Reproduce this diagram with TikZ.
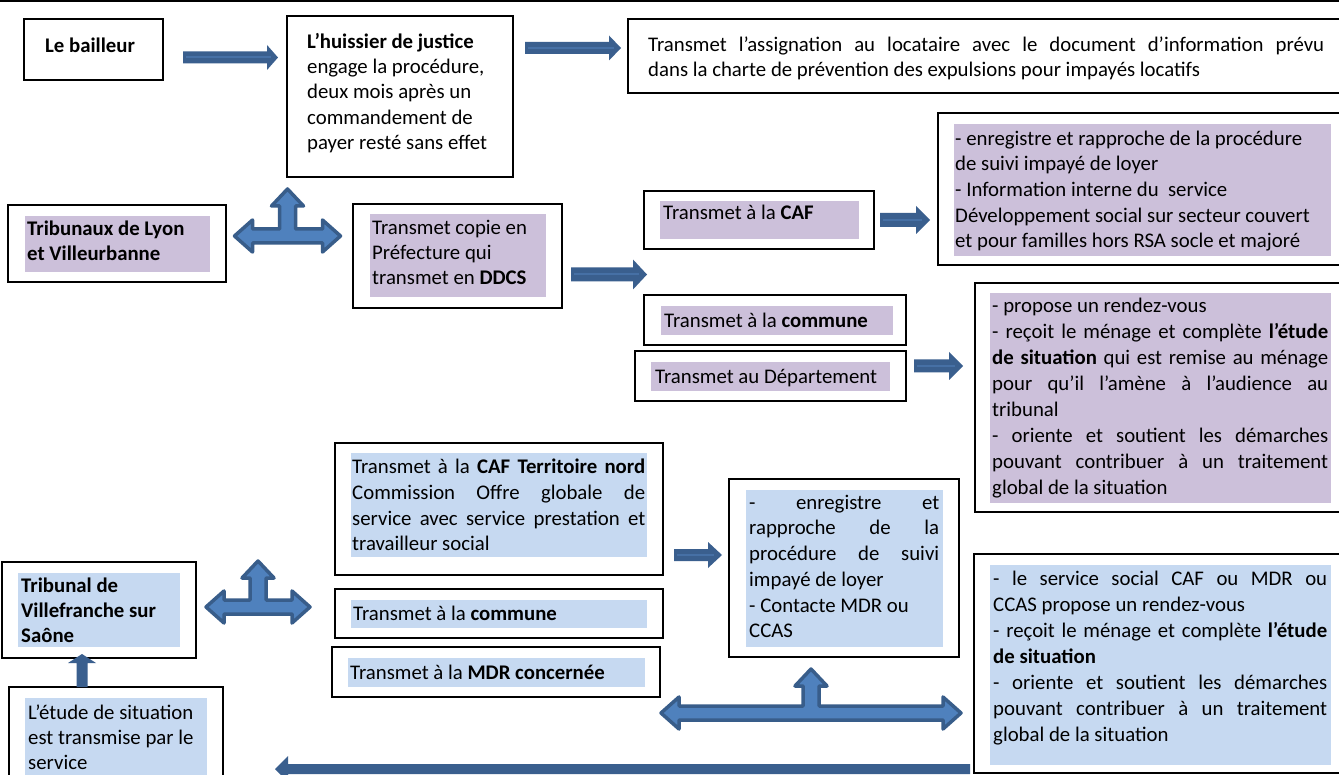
\documentclass[tikz,border=0pt]{standalone}
\usepackage{fontspec}
\setmainfont{Carlito}
\definecolor{purpfill}{HTML}{CCC0DA}
\definecolor{bluefill}{HTML}{C6D9F1}
\definecolor{arrowdark}{HTML}{3A5F8E}
\definecolor{arrowfill}{HTML}{4F81BD}
\definecolor{arrowedge}{HTML}{385D8A}
\definecolor{arrowlight}{HTML}{4670A5}
\newcommand\fsz{\fontsize{20.8}{25.4}\selectfont}
% outer box: name, x1, y1, x2, y2
\newcommand\Bx[5]{\node[box, minimum width={#4-#2}, minimum height={#5-#3}] (#1) at (#2,#3) {};}
% fill rectangle
\newcommand\Fl[5]{\fill[#1] (#2,#3) rectangle (#4,#5);}
% text: name, x, first baseline, content
\newcommand\Tx[4]{\node[txt] (#1) at (#2,{#3-17.8}) {\strut #4};}
% text with own line spacing: name, x, first baseline, skip, content
\newcommand\TxS[5]{\node[txt, font=\fontsize{20.8}{#4}\selectfont] (#1) at (#2,{#3-0.7*#4}) {\strut #5};}
% right arrow: x1 x2 y h H L
\newcommand\Rar[6]{%
  \fill[arrowdark] (#1,{#3-#4}) -- ({#2-#6},{#3-#4}) -- ({#2-#6},{#3-#5}) -- (#2,#3) -- ({#2-#6},{#3+#5}) -- ({#2-#6},{#3+#4}) -- (#1,{#3+#4}) -- cycle;
  \draw[stripe] ({#1+3},#3) -- ({#2-#6*0.6},#3);}
% left arrow: tip x, tail x, y h H L
\newcommand\Lar[6]{%
  \fill[arrowdark] (#2,{#3-#4}) -- ({#1+#6},{#3-#4}) -- ({#1+#6},{#3-#5}) -- (#1,#3) -- ({#1+#6},{#3+#5}) -- ({#1+#6},{#3+#4}) -- (#2,{#3+#4}) -- cycle;}
% up arrow: x, tip y, tail y, h H L
\newcommand\Uar[6]{%
  \fill[arrowdark] ({#1-#4},#3) -- ({#1-#4},{#2+#6}) -- ({#1-#5},{#2+#6}) -- (#1,#2) -- ({#1+#5},{#2+#6}) -- ({#1+#4},{#2+#6}) -- ({#1+#4},#3) -- cycle;}
% T arrow (left-right-up): cx cy halfwidth uplength
\newcommand\Tar[4]{%
  \filldraw[tarrow] ({#1-#3},#2) -- ({#1-#3+18},{#2-16}) -- ({#1-#3+18},{#2-7}) -- ({#1-8},{#2-7}) -- ({#1-8},{#2-#4+17}) -- ({#1-16},{#2-#4+17}) -- (#1,{#2-#4}) -- ({#1+16},{#2-#4+17}) -- ({#1+8},{#2-#4+17}) -- ({#1+8},{#2-7}) -- ({#1+#3-18},{#2-7}) -- ({#1+#3-18},{#2-16}) -- ({#1+#3},#2) -- ({#1+#3-18},{#2+16}) -- ({#1+#3-18},{#2+7}) -- ({#1-#3+18},{#2+7}) -- ({#1-#3+18},{#2+16}) -- cycle;}

\begin{document}
\begin{tikzpicture}[x=1pt,y=-1pt,
  box/.style={draw=black, line width=1.3pt, anchor=north west, inner sep=0pt, outer sep=0pt},
  txt/.style={anchor=north west, inner sep=0pt, align=left, font=\fsz},
  purp/.style={fill=purpfill},
  blu/.style={fill=bluefill},
  stripe/.style={draw=arrowlight, line width=2pt},
  tarrow/.style={fill=arrowfill, draw=arrowedge, line width=3.5pt, line join=round}]
\useasboundingbox (0,0) rectangle (1339,775);
\clip (0,0) rectangle (1339,775);
\fill[white] (0,0) rectangle (1339,775);
\draw[line width=2pt] (0,1) -- (1339,1);

% ---------- top row ----------
\Bx{bail}{24}{19}{163}{80}
\Tx{bailT}{45}{52}{\textbf{Le bailleur}}

\Bx{huis}{287}{16}{513}{177}
\Tx{huisT}{307}{48}{\textbf{L’huissier de justice}\\engage la procédure,\\deux mois après un\\commandement de\\payer resté sans effet}

\Bx{assig}{628}{19}{1345}{93}
\Tx{assigT}{648}{51}{\makebox[676pt][s]{Transmet l’assignation au locataire avec le document d’information prévu}\\dans la charte de prévention des expulsions pour impayés locatifs}

\Rar{183}{278}{57.5}{6}{12.5}{11}
\Rar{525}{621}{48}{6}{12.5}{12}

% ---------- Lyon section ----------
\Bx{cafd}{938}{113}{1345}{265}
\Fl{purp}{954}{124}{1331}{256}
\TxS{cafdT}{955}{145}{25.7}{- enregistre et rapproche de la procédure\\de suivi impayé de loyer\\- Information interne du\ \ service\\Développement social sur secteur couvert\\et pour familles hors RSA socle et majoré}

\Bx{caf}{644}{191}{874}{249}
\Fl{purp}{660}{201}{859}{239}
\Tx{cafT}{663}{219}{Transmet à la \textbf{CAF}}

\Bx{tribL}{8}{205}{226}{282}
\Fl{purp}{25}{216}{210}{272}
\Tx{tribLT}{27}{235}{\textbf{Tribunaux de Lyon}\\\textbf{et Villeurbanne}}

\Bx{pref}{353}{204}{562}{308}
\Fl{purp}{370}{214}{546}{297}
\Tx{prefT}{372}{234}{Transmet copie en\\Préfecture qui\\transmet en \textbf{DDCS}}

\Bx{comm}{644}{295}{906}{345}
\Fl{purp}{661}{306}{893}{335}
\Tx{commT}{664}{327}{Transmet à la \textbf{commune}}

\Bx{dept}{635}{351}{906}{401}
\Fl{purp}{651}{362}{890}{391}
\Tx{deptT}{655}{383}{Transmet au Département}

\Bx{prop}{975}{283}{1345}{512}
\Fl{purp}{990}{293}{1331}{503}
\TxS{propT}{992}{312}{26.1}{- propose un rendez-vous\\\makebox[336pt][s]{- reçoit le ménage et complète \textbf{l’étude}}\\\makebox[336pt][s]{\textbf{de situation} qui est remise au ménage}\\\makebox[336pt][s]{pour qu’il l’amène à l’audience au}\\tribunal\\\makebox[336pt][s]{- oriente et soutient les démarches}\\\makebox[336pt][s]{pouvant contribuer à un traitement}\\global de la situation}

\Tar{287.5}{236}{53}{47}
\Rar{571}{647}{274.5}{7}{15}{14}
\Rar{880}{930}{220}{7}{14}{14}
\Rar{914}{963}{366}{6.5}{14}{14}

% ---------- Villefranche section ----------
\Bx{cafn}{335}{443}{663}{575}
\Fl{blu}{351}{453}{647}{557}
\TxS{cafnT}{352}{473}{25.9}{\makebox[293pt][s]{Transmet à la \textbf{CAF Territoire nord}}\\\makebox[293pt][s]{Commission Offre globale de}\\\makebox[293pt][s]{service avec service prestation et}\\travailleur social}

\Bx{comm2}{335}{589}{663}{638}
\Fl{blu}{351}{600}{647}{628}
\Tx{comm2T}{353}{620}{Transmet à la \textbf{commune}}

\Bx{mdr}{332}{647}{660}{697}
\Fl{blu}{348}{658}{645}{687}
\Tx{mdrT}{350}{679}{Transmet à la \textbf{MDR concernée}}

\Bx{tribV}{2}{562}{196}{658}
\Fl{blu}{18}{573}{180}{647}
\Tx{tribVT}{21}{592}{\textbf{Tribunal de}\\\textbf{Villefranche sur}\\\textbf{Saône}}

\Bx{etude}{9}{687}{223}{800}
\Fl{blu}{25}{698}{207}{800}
\Tx{etudeT}{28}{719}{L’étude de situation\\est transmise par le\\service}

\Bx{enreg}{729}{479}{959}{657}
\Fl{blu}{746}{490}{943}{647}
\TxS{enregT}{749}{509}{25.7}{\makebox[190pt][s]{- enregistre et}\\\makebox[190pt][s]{rapproche de la}\\\makebox[190pt][s]{procédure de suivi}\\impayé de loyer\\- Contacte MDR ou\\CCAS}

\Bx{serv}{974}{554}{1345}{773}
\Fl{blu}{990}{565}{1331}{765}
\TxS{servT}{993}{585}{26}{\makebox[334pt][s]{- le service social CAF ou MDR ou}\\CCAS propose un rendez-vous\\\makebox[334pt][s]{- reçoit le ménage et complète \textbf{l’étude}}\\\textbf{de situation}\\\makebox[334pt][s]{- oriente et soutient les démarches}\\\makebox[334pt][s]{pouvant contribuer à un traitement}\\global de la situation}

\Tar{258}{607}{52}{46}
\Tar{811}{713}{150}{44}
\Rar{674}{722}{555}{6}{13}{14}
\Uar{82}{654}{687}{5.5}{14}{9}
\Lar{275}{970}{769}{5}{13}{13}
\end{tikzpicture}
\end{document}
